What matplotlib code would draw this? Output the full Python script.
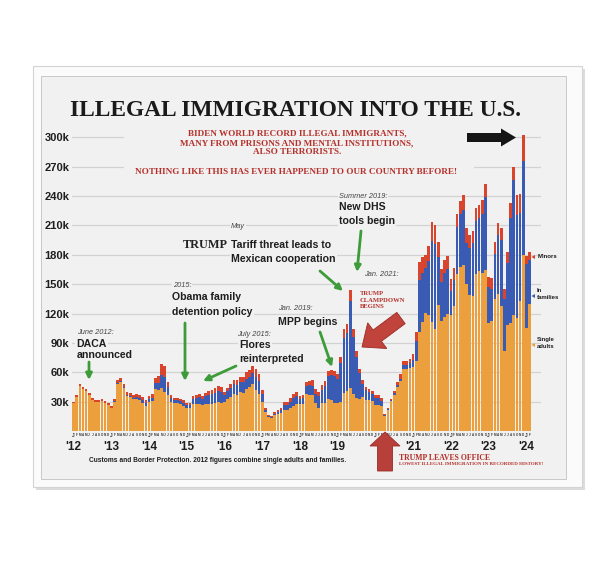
import matplotlib
matplotlib.use("Agg")
import matplotlib.pyplot as plt
from matplotlib.patches import Rectangle, Polygon, FancyArrowPatch
from matplotlib.transforms import Affine2D
import numpy as np

# ---------------- data (thousands of encounters per month, Jan 2012 - Feb 2024) -------------
adults_2012 = [28.5, 35, 45.5, 42.5, 40.5, 36.5, 31.5, 29.5, 29.5, 30.5, 29, 27]
adults_2013 = [23.5, 30, 48, 50, 44, 36, 34.5, 32.5, 33, 31.5, 29, 26]
adults_2014 = [29.5, 30.5, 43, 42, 44, 39.5, 36.5, 30, 28.5, 28.5, 28, 26]
adults_2015 = [24, 24, 28, 28, 28, 27, 28, 28, 28, 29, 30, 29]
adults_2016 = [30, 33, 35, 38, 37, 40, 39, 43, 45, 48, 42, 38]
adults_2017 = [30, 19.5, 14, 13, 16, 17, 18, 21.5, 21.5, 23, 26, 27.5]
adults_2018 = [27.5, 28, 37.5, 37, 36.5, 28.5, 23.5, 29, 29, 33, 31.7, 28.9]
adults_2019 = [29, 29.2, 39.1, 41.1, 43.5, 37.6, 33.7, 32.8, 34.5, 31.7, 31.8, 30.7]
adults_2020 = [26.9, 26.9, 26, 15.6, 21.2, 30.2, 36.8, 44.5, 50.6, 62.9, 63.2, 64.8]
adults_2021 = [65, 72, 101, 111, 121, 118, 111, 104, 129, 112, 116, 120]
adults_2022 = [118, 128, 160, 168, 170, 150, 139, 138, 160, 163, 161, 164]
adults_2023 = [110, 112, 135, 140, 128, 82, 108, 110, 118, 115, 133, 180]
adults_2024 = [105, 130]

families_2012 = [0] * 12
families_2013 = [0.5, 0.5, 1, 1, 1, 1, 1.5, 1.5, 2, 2, 2.5, 2.5]
families_2014 = [3, 3.5, 6, 7, 13, 16, 8, 4, 3, 3, 2.5, 3]
families_2015 = [2.5, 2.5, 5, 6, 7, 6, 7.5, 9, 9.5, 10, 10.5, 11]
families_2016 = [6.5, 7.5, 9, 9.5, 9.5, 10, 11, 10.5, 10.5, 11, 13.5, 13]
families_2017 = [8, 1.5, 1, 1, 1.5, 2, 3, 5, 5, 7, 8, 8.5]
families_2018 = [5, 5.5, 8, 9.5, 9.5, 9.5, 12, 13, 17, 23, 25, 27]
families_2019 = [24, 40, 56, 59, 89, 58, 42, 26, 14, 10, 8, 7]
families_2020 = [7, 7, 5, 0.7, 0.8, 1.2, 2, 2.5, 3, 4.5, 4.3, 4.4]
families_2021 = [7.3, 19.6, 53, 50, 45, 56, 83, 87, 49, 40, 45, 45]
families_2022 = [25, 26, 48, 54, 56, 42, 48, 54, 55, 55, 61, 75]
families_2023 = [37, 33, 46, 60, 67, 53, 64, 108, 138, 106, 90, 96]
families_2024 = [66, 45]

minors_2012 = [1.5, 2, 2.5, 2.5, 2.5, 2.5, 2.5, 2.5, 2.5, 2.5, 2, 2]
minors_2013 = [2, 2.5, 3, 3, 3, 3, 3, 3, 3, 3.5, 3.5, 3.5]
minors_2014 = [3.5, 4, 5, 7, 11, 10.5, 5.5, 3, 2.5, 2.5, 2.5, 3]
minors_2015 = [2.5, 2.5, 3, 3, 3, 3, 3.5, 4, 4.5, 5, 5.5, 5]
minors_2016 = [3.5, 3.5, 4, 4.5, 5.5, 5, 5, 6.5, 6.5, 7, 7.5, 7]
minors_2017 = [4, 2, 1, 1, 1.5, 2, 3, 3.5, 3.5, 4, 4, 4]
minors_2018 = [3.5, 3.5, 4.5, 4.5, 6, 5, 4.5, 5, 5, 5, 5.3, 5.1]
minors_2019 = [5, 6.8, 8.9, 8.9, 11.5, 8.4, 6.3, 4.2, 3.5, 3.3, 3.2, 3.3]
minors_2020 = [3.1, 3.1, 3.0, 0.7, 1.0, 1.6, 2.2, 3.0, 4.4, 4.6, 4.5, 4.8]
minors_2021 = [5.9, 9.4, 19, 17, 14, 15, 19, 19, 15, 13, 14, 14]
minors_2022 = [12, 12, 14, 13, 15, 15, 13, 12, 12.5, 13, 13.5, 13]
minors_2023 = [10, 11, 12, 12, 12, 10, 11, 15, 14, 20, 19, 26]
minors_2024 = [8, 8]

year_labels = ["'12", "'13", "'14", "'15", "'16", "'17", "'18", "'19", "", "'21", "'22", "'23", "'24"]
month_initials = ["J", "F", "M", "A", "M", "J", "J", "A", "S", "O", "N", "D"]
ytick_values = [30, 60, 90, 120, 150, 180, 210, 240, 270, 300]
ytick_labels = ["30k", "60k", "90k", "120k", "150k", "180k", "210k", "240k", "270k", "300k"]

adults = np.array(adults_2012 + adults_2013 + adults_2014 + adults_2015 + adults_2016 + adults_2017
                  + adults_2018 + adults_2019 + adults_2020 + adults_2021 + adults_2022 + adults_2023 + adults_2024)
families = np.array(families_2012 + families_2013 + families_2014 + families_2015 + families_2016 + families_2017
                    + families_2018 + families_2019 + families_2020 + families_2021 + families_2022 + families_2023
                    + families_2024)
minors = np.array(minors_2012 + minors_2013 + minors_2014 + minors_2015 + minors_2016 + minors_2017
                  + minors_2018 + minors_2019 + minors_2020 + minors_2021 + minors_2022 + minors_2023 + minors_2024)

# ---------------- styling ----------------
W, H = 600, 574
SANS = ["Liberation Sans", "DejaVu Sans"]
SERIF = ["Liberation Serif", "DejaVu Serif"]
PANEL = "#f1f1f1"
ORANGE = "#EBA03D"
BLUE = "#3A5BB3"
RED = "#D8442C"
DARKRED = "#B5302B"
GREEN = "#3E9B3A"
INK = "#1e1e1e"

fig = plt.figure(figsize=(W / 100, H / 100), dpi=100)
fig.patch.set_facecolor("white")
PX = Affine2D().scale(1, -1).translate(0, H)   # pixel coords, y measured from top

# frame / panel
fig.patches.append(Rectangle((36, 69), 549, 421, transform=PX, facecolor="#dcdcdc", edgecolor="none", zorder=-12))
fig.patches.append(Rectangle((33, 66), 549, 421, transform=PX, facecolor="#fbfbfb", edgecolor="#d4d4d4", lw=0.8, zorder=-11))
fig.patches.append(Rectangle((41, 76), 525, 403, transform=PX, facecolor=PANEL, edgecolor="#c8c8c8", lw=0.7, zorder=-10))

# ---------------- axes ----------------
ax = fig.add_axes([72 / W, 1 - 431 / H, 469 / W, 301 / H])
ax.set_facecolor("none")
n = len(adults)
x = np.arange(n)
bw = 0.86
ax.bar(x, adults, width=bw, color=ORANGE, linewidth=0, zorder=2)
ax.bar(x, families, width=bw, bottom=adults, color=BLUE, linewidth=0, zorder=2)
ax.bar(x, minors, width=bw, bottom=adults + families, color=RED, linewidth=0, zorder=2)

ax.set_xlim(-0.5, -0.5 + 469 / 3.144)
ax.set_ylim(0, 301 / 0.979)
ax.set_yticks(ytick_values)
ax.set_yticklabels(ytick_labels, fontfamily=SANS, fontweight="bold", fontsize=8, color=INK)
ax.set_xticks(np.arange(len(year_labels)) * 12)
ax.set_xticklabels(year_labels, fontfamily=SANS, fontweight="bold", fontsize=8.5, color=INK)
ax.tick_params(axis="y", length=0, pad=2)
ax.tick_params(axis="x", length=0, pad=7)
ax.yaxis.grid(True, color="#d2d2d2", lw=0.9, zorder=0)
ax.set_axisbelow(True)
for s in ax.spines.values():
    s.set_visible(False)

# tiny month initials under the bars
for i in range(n):
    m = month_initials[i % 12]
    ax.text(i, -0.008, m, transform=ax.get_xaxis_transform(), ha="center", va="top",
            fontsize=3.4 if i % 12 == 0 else 2.2, fontweight="bold", family=SANS, color="#333333")


# ---------------- helpers ----------------
def txt(x, y, s, size, weight="bold", style="normal", family=SANS, color=INK, ha="left", bg=True, pad=0.12):
    kw = {}
    if bg:
        kw["bbox"] = dict(boxstyle=f"square,pad={pad}", fc=PANEL, ec="none")
    fig.text(x / W, 1 - y / H, s, fontsize=size, fontweight=weight, fontstyle=style, family=family,
             color=color, ha=ha, va="center", **kw)


def green_arrow(x0, y0, x1, y1):
    fig.patches.append(FancyArrowPatch((x0, y0), (x1, y1), transform=PX, arrowstyle="-|>", color=GREEN,
                                       lw=2.0, mutation_scale=9, shrinkA=0, shrinkB=0, zorder=5))


def fat_arrow(tail, tip, body, head, head_len, color, z=5, ec="none"):
    t = np.array(tail, float)
    p = np.array(tip, float)
    d = p - t
    u = d / np.hypot(*d)
    nrm = np.array([-u[1], u[0]])
    neck = p - u * head_len
    pts = [t + nrm * body, neck + nrm * body, neck + nrm * head, p,
           neck - nrm * head, neck - nrm * body, t - nrm * body]
    fig.patches.append(Polygon(pts, closed=True, transform=PX, facecolor=color, edgecolor=ec, lw=0.6, zorder=z))


# ---------------- titles ----------------
txt(295.5, 110.5, "ILLEGAL IMMIGRATION INTO THE U.S.", 16.8, family=SERIF, ha="center", bg=False, color="#1a1a1a")
fig.patches.append(Rectangle((124, 126), 350, 53, transform=PX, facecolor=PANEL, edgecolor="none", zorder=1))
txt(297, 133, "BIDEN WORLD RECORD ILLEGAL IMMIGRANTS,", 6.6, family=SERIF, ha="center", color=DARKRED, bg=False)
txt(297, 143, "MANY FROM PRISONS AND MENTAL INSTITUTIONS,", 6.6, family=SERIF, ha="center", color=DARKRED, bg=False)
txt(297, 152.5, "ALSO TERRORISTS.", 6.6, family=SERIF, ha="center", color=DARKRED, bg=False)
txt(296, 172.5, "NOTHING LIKE THIS HAS EVER HAPPENED TO OUR COUNTRY BEFORE!", 6.6, family=SERIF, ha="center",
    color=DARKRED, bg=False)

# ---------------- annotations ----------------
ITAL = 5.3
BOLD = 7.6
txt(77, 332.5, "June 2012:", ITAL, weight="normal", style="italic", color="#444444")
txt(76.5, 344, "DACA", BOLD)
txt(76.5, 355.5, "announced", BOLD)
green_arrow(89, 362, 89, 380)

txt(173, 285.5, "2015:", ITAL, weight="normal", style="italic", color="#444444")
txt(172.5, 297.5, "Obama family", BOLD)
txt(172.5, 312, "detention policy", BOLD)
green_arrow(185, 323, 185, 381)

txt(237, 334, "July 2015:", ITAL, weight="normal", style="italic", color="#444444")
txt(239, 345, "Flores", BOLD)
txt(239, 359, "reinterpreted", BOLD)
green_arrow(236, 366, 203, 381)

txt(278, 309, "Jan. 2019:", ITAL, weight="normal", style="italic", color="#444444")
txt(277.5, 322, "MPP begins", BOLD)
green_arrow(320, 332, 332, 367)

txt(231, 226, "May", ITAL, weight="normal", style="italic", color="#444444")
txt(182.5, 245, "TRUMP", 8.8, family=SERIF, color="#222222")
txt(231, 245, "Tariff threat leads to", BOLD)
txt(231, 259, "Mexican cooperation", BOLD)
green_arrow(320, 271, 343, 291)

txt(339, 196, "Summer 2019:", ITAL, weight="normal", style="italic", color="#444444")
txt(339, 207, "New DHS", BOLD)
txt(339, 220.5, "tools begin", BOLD)
green_arrow(361, 231, 357, 272)

txt(364, 275, "Jan. 2021:", ITAL, weight="normal", style="italic", color="#444444")

txt(360, 293.5, "TRUMP", 4.8, family=SERIF, color=DARKRED, bg=False)
txt(360, 300, "CLAMPDOWN", 4.8, family=SERIF, color=DARKRED, bg=False)
txt(360, 306.5, "BEGINS", 4.8, family=SERIF, color=DARKRED, bg=False)
fat_arrow((401, 318), (362, 347), 7, 16, 19, "#C0443C", ec="#9c2a25")

fat_arrow((385, 471), (385, 432), 7.5, 15, 14, "#B8403A", ec="#9c2a25")
txt(399, 457.5, "TRUMP LEAVES OFFICE", 5.6, family=SERIF, color=DARKRED, bg=False)
txt(399, 464, "LOWEST ILLEGAL IMMIGRATION IN RECORDED HISTORY!", 3.6, family=SERIF, color=DARKRED, bg=False)

fat_arrow((467, 137.5), (516, 137.5), 4.5, 9, 15, "#151515")

txt(89, 460.5, "Customs and Border Protection. 2012 figures combine single adults and families.", 4.75, bg=False)

# series labels at right
LEG = 4.3
txt(538, 257, "Minors", LEG, bg=False)
txt(537, 290, "In", LEG, bg=False)
txt(537, 297.5, "families", LEG, bg=False)
txt(537, 339.5, "Single", LEG, bg=False)
txt(537, 347, "adults", LEG, bg=False)
for (yy, c) in [(257, RED), (296, BLUE), (345, ORANGE)]:
    fig.patches.append(Polygon([(531.5, yy), (535, yy - 2), (535, yy + 2)], closed=True, transform=PX,
                               facecolor=c, edgecolor="none", zorder=5))

fig.savefig("out.png", dpi=100, facecolor="white")
